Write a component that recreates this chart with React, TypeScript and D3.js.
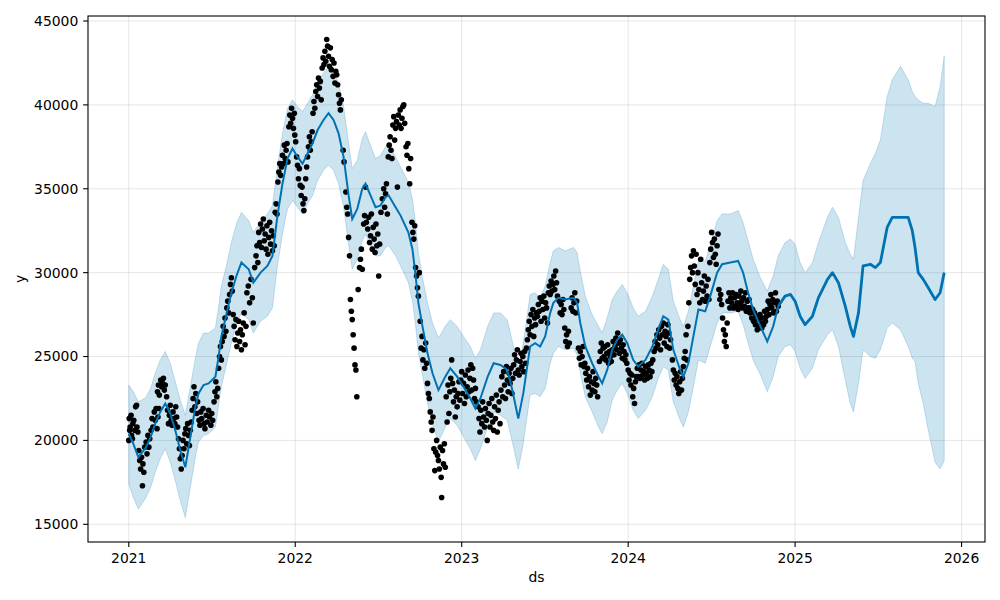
import React from "react";
import * as d3 from "d3";

// Day offsets are counted from 2021-01-01
const START_UTC = Date.UTC(2021, 0, 1);

// Observed points: [day offset, value]
const obs2021: [number, number][] = [
  [0, 20000], [1, 21300], [2, 20600], [3, 20800], [5, 21500], [6, 20300], [8, 20100], [9, 21000], [11, 21200], [13, 20600],
  [15, 22000], [17, 22100], [18, 20800], [20, 20500], [22, 19400], [24, 18800], [26, 18300], [28, 19000], [30, 17300], [31, 18600],
  [33, 18100], [35, 19600], [38, 19900], [40, 19200], [42, 20300], [44, 19600], [46, 20100], [49, 20600], [51, 21300], [53, 20800],
  [56, 21700], [58, 21200], [60, 21900], [62, 20700], [63, 22900], [64, 21400], [65, 23300], [66, 21900], [67, 22700], [70, 23600],
  [72, 23200], [74, 23400], [76, 23700], [78, 23000], [80, 23300], [83, 22600], [85, 21800], [87, 21000], [89, 21500], [91, 22100],
  [93, 21200], [95, 20900], [97, 21700], [99, 21300], [101, 21000], [103, 22000], [105, 21400], [107, 20800], [109, 20100], [111, 19500],
  [113, 18900], [115, 18300], [117, 19100], [119, 20000], [121, 19500], [123, 20400], [125, 20700], [127, 19800], [129, 21000], [131, 20300],
  [133, 19700], [135, 20600], [137, 21100], [139, 21800], [141, 22500], [143, 23200], [145, 22000], [147, 22800], [149, 21600], [151, 22300],
  [154, 21200], [156, 20900], [158, 21700], [160, 21300], [163, 21900], [165, 21000], [167, 20700], [170, 21500], [172, 21100], [175, 21800],
  [177, 21400], [180, 20900], [182, 21600], [184, 21200], [187, 22300], [189, 22900], [191, 23500], [193, 22600], [195, 23100], [197, 24300],
  [199, 25000], [201, 25600], [203, 24800], [205, 25900], [207, 26800], [209, 26200], [211, 27300], [213, 26500], [215, 27900], [217, 28300],
  [219, 27600], [221, 28700], [223, 29300], [225, 29700], [227, 28900], [229, 27500], [231, 26800], [233, 26000], [235, 27200], [237, 25600],
  [239, 26400], [241, 27100], [243, 25900], [245, 26600], [247, 25400], [249, 26300], [251, 27000], [253, 27600], [255, 25700], [257, 26800],
  [259, 28800], [262, 29200], [265, 28200], [268, 29600], [271, 28500], [273, 27000], [276, 30300], [279, 31000], [281, 31600], [283, 30600],
  [285, 32400], [287, 31800], [289, 32900], [291, 31500], [293, 32600], [295, 33200], [297, 31900], [299, 32300], [301, 31400], [303, 32800],
  [305, 31100], [307, 32100], [309, 33000], [311, 31700], [313, 32500], [315, 31300], [317, 32200], [319, 31600], [321, 33600], [323, 34100],
  [325, 33500], [327, 35400], [329, 36000], [331, 36500], [333, 35800], [335, 36300], [337, 37000], [339, 36500], [341, 37600], [343, 36800],
  [345, 37300], [347, 37700], [349, 36600], [351, 38700], [353, 39400], [355, 38900], [357, 39800], [359, 39200], [361, 38600], [363, 39500],
  [364, 38200],
];

const obs2022: [number, number][] = [
  [366, 37800], [368, 36900], [370, 36400], [372, 35600], [374, 36200], [376, 35200], [378, 34600], [380, 35100], [382, 34100], [384, 33700],
  [386, 34400], [388, 35600], [390, 36300], [392, 36900], [394, 37500], [396, 38100], [398, 37300], [400, 37800], [402, 38400], [404, 39500],
  [406, 40200], [408, 39800], [410, 40800], [412, 41200], [414, 40500], [416, 41600], [418, 41000], [420, 41400], [422, 40300], [424, 42200],
  [426, 42800], [428, 42400], [430, 43200], [432, 42600], [434, 43900], [436, 43500], [438, 42900], [440, 42300], [442, 43400], [444, 42100],
  [446, 42700], [448, 41700], [450, 42500], [452, 41300], [454, 42000], [456, 41800], [458, 41200], [460, 40600], [462, 40100], [464, 39700],
  [466, 40300], [470, 37300], [472, 36600], [476, 34800], [478, 33900], [480, 33500], [482, 32100], [484, 31000], [486, 28400], [488, 27700],
  [490, 27200], [492, 26300], [494, 25500], [496, 24500], [498, 24200], [500, 22600], [503, 29000], [506, 30300], [508, 30800], [510, 31400],
  [512, 30200], [515, 32900], [517, 33400], [519, 35100], [521, 33000], [524, 32600], [526, 33300], [528, 31800], [530, 32200], [532, 33500],
  [534, 31400], [536, 32700], [538, 32000], [540, 31200], [542, 32900], [544, 31600], [546, 32300], [548, 29800], [550, 31700], [553, 33600],
  [556, 34400], [559, 35000], [561, 33900], [563, 34700], [565, 35300], [567, 33500], [569, 36900], [571, 37600], [573, 38100], [575, 37300],
  [577, 36800], [579, 38800], [581, 39300], [583, 37900], [585, 38600], [587, 39000], [589, 35100], [591, 39400], [593, 38800], [595, 39700],
  [597, 38600], [599, 39200], [601, 39900], [603, 40000], [605, 38900], [608, 37500], [610, 37000], [612, 37700], [614, 36200], [616, 35300],
  [618, 36800], [621, 33000], [623, 32400], [625, 32000], [627, 32800], [629, 30300], [631, 29800], [633, 29100], [635, 28600], [637, 30000],
  [639, 27100], [641, 25500], [643, 26200], [645, 24800], [647, 25400], [649, 24300], [651, 25800], [653, 24600], [655, 23400], [657, 22800],
  [659, 22500], [661, 21700], [663, 21100], [665, 20600], [667, 21400], [669, 19500], [671, 18200], [673, 19300], [675, 20000], [677, 19100],
  [679, 18800], [681, 18300], [683, 19600], [685, 17800], [686, 16600], [688, 19400], [690, 18600], [692, 19800], [694, 18400], [696, 22600],
  [698, 21100], [700, 23300], [702, 21600], [704, 22900], [706, 23700], [708, 24800], [710, 23400], [712, 22300], [714, 23000], [716, 21400],
  [718, 22600], [720, 22000], [722, 22800], [724, 23500], [726, 22400], [728, 23600],
];

const obs2023: [number, number][] = [
  [730, 24100], [732, 22800], [734, 23400], [736, 22200], [738, 23900], [740, 22600], [742, 23200], [744, 24200], [746, 22900], [748, 23700],
  [750, 24500], [752, 23000], [754, 24300], [756, 23600], [758, 22500], [760, 23100], [762, 22300], [766, 22000], [768, 21300], [770, 20500],
  [772, 21800], [774, 21000], [776, 22300], [778, 21400], [780, 20800], [782, 21900], [784, 21200], [786, 20000], [788, 21600], [790, 22200],
  [792, 20800], [794, 21500], [796, 22500], [798, 21100], [800, 20600], [802, 22000], [804, 21300], [806, 22700], [808, 20500], [810, 21800],
  [812, 22300], [814, 21000], [816, 23000], [818, 23800], [820, 22600], [822, 24100], [824, 23300], [826, 22500], [828, 24400], [830, 23600],
  [832, 22900], [834, 24000], [836, 23400], [838, 24300], [840, 22800], [842, 23700], [844, 24500], [846, 25100], [848, 24000], [850, 24800],
  [852, 25400], [854, 24200], [856, 23900], [858, 24700], [860, 25200], [862, 24400], [864, 25000], [866, 24100], [868, 25300], [870, 24600],
  [872, 25500], [874, 26000], [876, 26600], [878, 27100], [880, 26300], [882, 27500], [884, 26800], [886, 27800], [888, 26200], [890, 27300],
  [892, 26900], [894, 27600], [896, 27400], [898, 28100], [900, 27700], [902, 28500], [904, 27100], [906, 28300], [908, 27800], [910, 28600],
  [912, 27300], [914, 28200], [916, 27900], [918, 27000], [920, 28800], [922, 29200], [924, 28700], [926, 29500], [928, 28900], [930, 29300],
  [932, 29800], [934, 29000], [936, 30100], [938, 29400], [940, 28600], [944, 28300], [946, 27600], [948, 28100], [950, 27500], [952, 28400],
  [954, 27800], [956, 26700], [958, 25900], [960, 26300], [962, 25600], [964, 26500], [966, 25800], [970, 27900], [972, 28500], [974, 27700],
  [976, 28200], [978, 28800], [980, 27600], [982, 28300], [986, 25500], [988, 24900], [990, 25300], [992, 24500], [994, 25000], [996, 25600],
  [998, 24400], [1000, 24600], [1002, 24000], [1004, 23600], [1006, 24300], [1008, 23200], [1010, 23800], [1012, 22700], [1014, 23500], [1016, 23000],
  [1018, 24100], [1020, 23400], [1022, 22900], [1024, 23700], [1026, 23300], [1028, 22600], [1032, 24700], [1034, 25300], [1036, 25800], [1038, 24900],
  [1040, 25500], [1042, 25000], [1044, 25600], [1046, 24800], [1048, 25200], [1050, 25700], [1052, 24600], [1054, 25300], [1056, 25000], [1058, 24700],
  [1060, 25400], [1062, 25900], [1064, 25100], [1066, 25600], [1068, 26100], [1070, 25400], [1072, 26400], [1074, 25800], [1076, 25200], [1078, 26000],
  [1080, 25500], [1082, 24900], [1084, 25700], [1086, 25300], [1088, 24800], [1090, 25100], [1092, 24600],
];

const obs2024: [number, number][] = [
  [1095, 24200], [1097, 23600], [1099, 24000], [1101, 23300], [1103, 23900], [1105, 22600], [1107, 23100], [1109, 22200], [1111, 23500], [1113, 23800],
  [1115, 24300], [1117, 23800], [1119, 24500], [1121, 23700], [1123, 24200], [1125, 24600], [1127, 23900], [1129, 24100], [1131, 23600], [1133, 24400],
  [1135, 24000], [1137, 23700], [1139, 24500], [1141, 24200], [1143, 23800], [1145, 24600], [1147, 24100], [1149, 24800], [1152, 25300], [1154, 25900],
  [1156, 25500], [1158, 26300], [1160, 25700], [1162, 26600], [1164, 26100], [1166, 25400], [1168, 26800], [1170, 26300], [1172, 27000], [1174, 25800],
  [1176, 26500], [1178, 26200], [1180, 25600], [1182, 26900], [1184, 26400], [1186, 25500], [1188, 26000], [1192, 24800], [1194, 24200], [1196, 23600],
  [1198, 24000], [1200, 23300], [1202, 23800], [1204, 23100], [1206, 22800], [1208, 23500], [1210, 24100], [1212, 23000], [1214, 23700], [1216, 24400],
  [1218, 24900], [1220, 25300], [1222, 26300], [1224, 24800], [1226, 26800], [1228, 28200], [1230, 29600], [1232, 30300], [1234, 31000], [1236, 30000],
  [1238, 31300], [1240, 30400], [1242, 29300], [1244, 31100], [1246, 28700], [1248, 30000], [1250, 29000], [1252, 28200], [1254, 30800], [1256, 29400],
  [1258, 28400], [1260, 28900], [1262, 29800], [1264, 28300], [1266, 29200], [1268, 28600], [1270, 29600], [1272, 28400], [1274, 30600], [1276, 31400],
  [1278, 32400], [1280, 31800], [1282, 30900], [1284, 32000], [1286, 31100], [1288, 30500], [1290, 31600], [1292, 32300], [1294, 29000], [1296, 28400],
  [1298, 28700], [1300, 28100], [1302, 27300], [1304, 26600], [1306, 25900], [1308, 26300], [1310, 25600], [1312, 27000], [1314, 28300], [1316, 28800],
  [1318, 27900], [1320, 28500], [1322, 28200], [1324, 28800], [1326, 27900], [1328, 28500], [1330, 28000], [1332, 28700], [1334, 28200], [1336, 27800],
  [1338, 28600], [1340, 28100], [1342, 28900], [1344, 28300], [1346, 27900], [1348, 28500], [1350, 28000], [1352, 28800], [1354, 27700], [1356, 28300],
  [1358, 27900], [1360, 28400], [1362, 27600], [1364, 27900], [1366, 27300], [1368, 27800], [1370, 27100], [1372, 27600], [1374, 26900], [1376, 27400],
  [1378, 26600], [1380, 27200], [1382, 26800], [1384, 27500], [1386, 27000], [1388, 26700], [1390, 27300], [1392, 26900], [1394, 27700], [1396, 27100],
  [1398, 27400], [1400, 27800], [1402, 28300], [1404, 27500], [1406, 28100], [1408, 28700], [1410, 27900], [1412, 28400], [1414, 27600], [1416, 28200],
  [1418, 28800], [1420, 27700], [1422, 28300], [1424, 28000],
];

// Fitted / forecast line
const lineDay = [
  0, 10, 21, 37, 48, 58, 69, 80, 91, 102, 113, 124, 135, 146, 153, 164, 175, 190, 197, 203,
  214, 225, 236, 247, 263, 273, 289, 304, 315, 326, 337, 348, 359, 370, 381, 392, 403, 414, 427, 438,
  449, 460, 471, 482, 490, 501, 512, 519, 530, 541, 552, 563, 570, 585, 596, 613, 622, 629, 635, 644,
  655, 666, 679, 694, 705, 720, 734, 749, 760, 771, 787, 800, 815, 830, 841, 854, 865, 880, 891, 902,
  913, 924, 931, 942, 957, 975, 983, 990, 1001, 1016, 1030, 1038, 1049, 1060, 1071, 1082, 1093, 1106, 1117, 1133,
  1148, 1161, 1172, 1183, 1194, 1209, 1216, 1227, 1238, 1249, 1264, 1275, 1290, 1301, 1319, 1336, 1347, 1358, 1369, 1385,
  1400, 1413, 1424, 1439, 1451, 1461, 1472, 1483, 1499, 1512, 1532, 1543, 1556, 1571, 1582, 1589, 1600, 1610, 1626, 1637,
  1648, 1663, 1674, 1692, 1709, 1718, 1724, 1731, 1742, 1753, 1768, 1779, 1788,
];
const yhat = [
  20400, 19800, 19000, 19550, 20200, 21000, 21700, 22200, 21600, 20600, 19400, 18400, 20200, 22000, 22800, 23300, 23400, 23800, 25000, 26200,
  27500, 28800, 29800, 30600, 30200, 29400, 30000, 30400, 31000, 33400, 35300, 36800, 37400, 36900, 36500, 37100, 37700, 38500, 39100, 39500,
  39100, 38300, 36900, 34600, 33200, 33800, 35000, 35300, 34600, 33900, 34000, 34500, 34600, 33900, 33400, 32400, 31400, 29800, 28200, 26800,
  25200, 24000, 23000, 23800, 24300, 23800, 23200, 22500, 21900, 22500, 23800, 24600, 24500, 24200, 23000, 21300, 22800, 25600, 25800, 25600,
  26200, 27600, 28200, 28500, 28400, 28500, 28200, 27000, 25600, 24600, 23800, 23400, 24200, 25400, 26000, 26300, 25800, 24800, 24400, 24800,
  25600, 26600, 27400, 27200, 25400, 24200, 23800, 24600, 26200, 27800, 27700, 28600, 30000, 30500, 30600, 30700, 30000, 28800, 27800, 26800,
  25900, 26800, 28000, 28600, 28700, 28300, 27400, 26900, 27400, 28500, 29600, 30000, 29400, 28000, 26800, 26200, 27600, 30400, 30500, 30300,
  30600, 32700, 33300, 33300, 33300, 32500, 31500, 30000, 29600, 29100, 28400, 28800, 30000,
];
const bandAbove = [
  2900, 3100, 3300, 3000, 2900, 3000, 3100, 3100, 3000, 2900, 3000, 3100, 3000, 2900, 3000, 3100, 3000, 2900, 3000, 3000,
  2900, 3000, 3100, 3000, 2900, 3000, 3000, 3100, 3000, 2900, 3000, 3000, 2900, 3000, 3100, 3000, 2900, 2900, 2800, 2800,
  2900, 3000, 3000, 3100, 3000, 2900, 3000, 3100, 3000, 2900, 3000, 3000, 3100, 3000, 2900, 3000, 3000, 3100, 3000, 2900,
  3000, 3000, 3100, 3000, 2900, 3000, 3000, 3100, 3000, 2900, 3000, 3000, 3100, 3000, 2900, 3000, 3000, 3100, 3000, 2900,
  3000, 3000, 3100, 3000, 2900, 3000, 3000, 3100, 3000, 2900, 3000, 3000, 3100, 3000, 2900, 3000, 3000, 3100, 3000, 2900,
  3000, 3000, 3100, 3000, 2900, 3000, 3000, 3100, 3000, 2900, 3000, 3000, 3100, 3000, 2900, 3000, 3000, 3100, 3000, 2900,
  3000, 3000, 3000, 3200, 3300, 3400, 3200, 3100, 3200, 3300, 3700, 3900, 3900, 3800, 4300, 4600, 5700, 5100, 6000, 6800,
  7300, 7800, 8200, 9000, 8200, 8300, 9000, 10300, 10500, 11000, 11500, 12300, 12900,
];
const bandBelow = [
  3000, 3200, 3100, 3000, 3000, 2900, 2800, 2700, 2900, 3000, 3000, 3000, 3000, 3000, 2900, 3000, 3000, 3000, 2900, 3000,
  3000, 3000, 2900, 3000, 3000, 3000, 2900, 3000, 3100, 3000, 3000, 3000, 3100, 3000, 3000, 3000, 3100, 3000, 3000, 3100,
  3000, 3000, 3000, 2900, 3000, 3000, 3100, 3000, 3000, 2900, 3000, 3000, 3000, 2900, 3000, 3000, 3100, 3000, 3000, 2900,
  3000, 3000, 3100, 3000, 3000, 2900, 3000, 3000, 3100, 3000, 3000, 2900, 3000, 3000, 3100, 3000, 3000, 2900, 3000, 3000,
  3100, 3000, 3000, 2900, 3000, 3000, 3100, 3000, 3000, 2900, 3000, 3000, 3100, 3000, 3000, 2900, 3000, 3000, 3100, 3000,
  3000, 2900, 3000, 3000, 3100, 3000, 3000, 2900, 3000, 3000, 3100, 3000, 3000, 2900, 3000, 3000, 3100, 3000, 3000, 2900,
  3000, 3000, 3000, 3000, 3000, 3000, 3100, 3200, 3100, 3100, 3300, 3400, 3800, 4400, 4600, 4500, 4200, 5000, 5500, 5400,
  5200, 6000, 6300, 6700, 7700, 7600, 6800, 6600, 7400, 8500, 9700, 10500, 11200,
];
const LAST_OBS_DAY = 1424;

const yTicks = [15000, 20000, 25000, 30000, 35000, 40000, 45000];
const yearTicks = [2021, 2022, 2023, 2024, 2025, 2026];

const toDate = (d: number) => new Date(START_UTC + d * 86400000);

export default function App() {
  const W = 1000, H = 600;
  const left = 88, right = 985, top = 16, bottom = 542;
  const x = d3.scaleUtc().domain([toDate(-89.4), toDate(1877.4)]).range([left, right]);
  const y = d3.scaleLinear().domain([13945, 45298]).range([bottom, top]);

  const rows = lineDay.map((d, i) => ({
    date: toDate(d),
    day: d,
    yhat: yhat[i],
    upper: yhat[i] + bandAbove[i],
    lower: yhat[i] - bandBelow[i],
  }));
  const area = d3.area<any>().x((r) => x(r.date)).y0((r) => y(r.lower)).y1((r) => y(r.upper));
  const line = d3.line<any>().x((r) => x(r.date)).y((r) => y(r.yhat));
  const hist = rows.filter((r) => r.day <= LAST_OBS_DAY);
  const fut = rows.filter((r) => r.day >= LAST_OBS_DAY);
  const observed = [...obs2021, ...obs2022, ...obs2023, ...obs2024];
  const font = "'DejaVu Sans', sans-serif";
  const fs = 13.9;

  return (
    <svg width={W} height={H} style={{ position: "absolute", left: 0, top: 0, background: "#fff" }} fontFamily={font}>
      <rect x={0} y={0} width={W} height={H} fill="#fff" />
      {/* grid */}
      {yearTicks.map((yr) => {
        const px = x(new Date(Date.UTC(yr, 0, 1)));
        return <line key={"gx" + yr} x1={px} x2={px} y1={top} y2={bottom} stroke="#808080" strokeOpacity={0.2} strokeWidth={1} />;
      })}
      {yTicks.map((t) => (
        <line key={"gy" + t} x1={left} x2={right} y1={y(t)} y2={y(t)} stroke="#808080" strokeOpacity={0.2} strokeWidth={1} />
      ))}
      {/* band */}
      <path d={area(rows) || ""} fill="#0072B2" fillOpacity={0.2} stroke="#0072B2" strokeOpacity={0.2} strokeWidth={1} />
      {/* observed */}
      {observed.map(([d, v], i) => (
        <circle key={"o" + i} cx={x(toDate(d))} cy={y(v)} r={2.8} fill="#000" />
      ))}
      {/* fitted line */}
      <path d={line(hist) || ""} fill="none" stroke="#0072B2" strokeWidth={2} />
      <path d={line(fut) || ""} fill="none" stroke="#0072B2" strokeWidth={2.8} strokeLinejoin="round" />
      {/* frame */}
      <rect x={left} y={top} width={right - left} height={bottom - top} fill="none" stroke="#000" strokeWidth={1.1} />
      {/* y axis */}
      {yTicks.map((t) => (
        <g key={"yt" + t}>
          <line x1={left - 4.9} x2={left} y1={y(t)} y2={y(t)} stroke="#000" strokeWidth={1.1} />
          <text x={left - 9.7} y={y(t)} dy="0.35em" textAnchor="end" fontSize={fs} fill="#000">{t}</text>
        </g>
      ))}
      {/* x axis */}
      {yearTicks.map((yr) => {
        const px = x(new Date(Date.UTC(yr, 0, 1)));
        return (
          <g key={"xt" + yr}>
            <line x1={px} x2={px} y1={bottom} y2={bottom + 4.9} stroke="#000" strokeWidth={1.1} />
            <text x={px} y={bottom + 20.5} textAnchor="middle" fontSize={fs} fill="#000">{yr}</text>
          </g>
        );
      })}
      <text x={(left + right) / 2} y={582} textAnchor="middle" fontSize={fs} fill="#000">ds</text>
      <text transform={`translate(25,${(top + bottom) / 2}) rotate(-90)`} textAnchor="middle" fontSize={fs} fill="#000">y</text>
    </svg>
  );
}
